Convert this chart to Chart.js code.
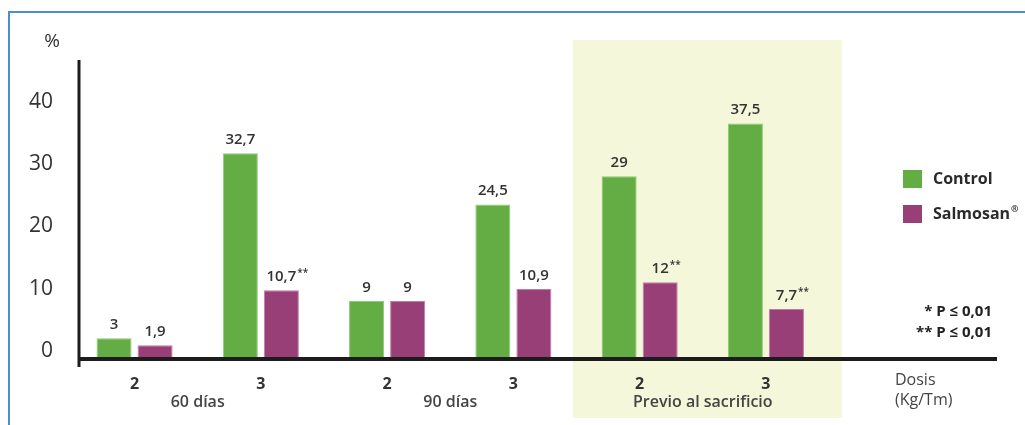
<!doctype html>
<html lang="es">
<head>
  <meta charset="utf-8">
  <title>Salmosan</title>
  <script src="https://cdn.jsdelivr.net/npm/chart.js"></script>
  <style>
    body { margin: 0; background: #fff; }
  </style>
</head>
<body>
  <canvas id="grafico" width="1025" height="425"></canvas>

  <script>
    // datos
    const dosis = ['2', '3', '2', '3', '2', '3'];
    const periodos = ['60 días', '90 días', 'Previo al sacrificio'];
    const control = [3, 32.7, 9, 24.5, 29, 37.5];
    const salmosan = [1.9, 10.7, 9, 10.9, 12, 7.7];
    const controlSig = ['', '', '', '', '', ''];
    const salmosanSig = ['', '**', '', '', '**', '**'];
    const yTicks = [0, 10, 20, 30, 40];
    const notas = ['* P ≤ 0,01', '** P ≤ 0,01'];

    const fuente = '"Open Sans", "DejaVu Sans", sans-serif';

    function fmt(v) {
      return String(v).replace('.', ',');
    }

    // fondo: marco azul y zona "previo al sacrificio"
    const fondo = {
      id: 'fondo',
      beforeDraw(chart) {
        const ctx = chart.ctx;
        const x = chart.scales.x;
        ctx.save();
        ctx.fillStyle = '#f4f7d9';
        const x0 = x.getPixelForValue(3.47);
        const x1 = x.getPixelForValue(5.6);
        ctx.fillRect(x0, 40, x1 - x0, 378);

        ctx.strokeStyle = '#4d8fcc';
        ctx.lineWidth = 2;
        ctx.beginPath();
        ctx.moveTo(9, 425);
        ctx.lineTo(9, 12);
        ctx.lineTo(1025, 12);
        ctx.stroke();
        ctx.restore();
      }
    };

    // ejes, etiquetas de valores, leyenda y notas
    const extras = {
      id: 'extras',
      afterDatasetsDraw(chart) {
        const ctx = chart.ctx;
        const area = chart.chartArea;
        const x = chart.scales.x;
        ctx.save();

        // ejes
        ctx.strokeStyle = '#1c1c1c';
        ctx.lineWidth = 3;
        ctx.beginPath();
        ctx.moveTo(area.left, 60);
        ctx.lineTo(area.left, 367);
        ctx.stroke();
        ctx.lineWidth = 4;
        ctx.beginPath();
        ctx.moveTo(area.left - 1, area.bottom + 2);
        ctx.lineTo(area.right, area.bottom + 2);
        ctx.stroke();

        // valores encima de las barras
        ctx.fillStyle = '#333';
        ctx.textBaseline = 'alphabetic';
        chart.data.datasets.forEach((ds, di) => {
          const meta = chart.getDatasetMeta(di);
          meta.data.forEach((bar, i) => {
            const txt = fmt(ds.data[i].y);
            ctx.font = '600 15px ' + fuente;
            const w = ctx.measureText(txt).width;
            const tx = bar.x - w / 2;
            ctx.textAlign = 'left';
            ctx.fillText(txt, tx, bar.y - 9);
            if (ds.sig[i]) {
              ctx.font = '600 10px ' + fuente;
              ctx.fillText(ds.sig[i], tx + w + 1, bar.y - 14);
            }
          });
        });

        // "%"
        ctx.font = '19px ' + fuente;
        ctx.textAlign = 'center';
        ctx.textBaseline = 'middle';
        ctx.fillText('%', 52, 42);

        // periodos
        ctx.font = '600 16px ' + fuente;
        ctx.fillStyle = '#444';
        periodos.forEach((p, i) => {
          ctx.fillText(p, x.getPixelForValue(i * 2 + 0.5), 402);
        });

        // Dosis
        ctx.textAlign = 'left';
        ctx.fillStyle = '#444';
        ctx.font = '500 16px ' + fuente;
        ctx.fillText('Dosis', 895, 380);
        ctx.fillText('(Kg/Tm)', 895, 400);

        // leyenda
        chart.data.datasets.forEach((ds, di) => {
          const ly = 170 + di * 35;
          ctx.fillStyle = ds.backgroundColor;
          ctx.fillRect(area.right - 94, ly, 19, 18);
          ctx.fillStyle = '#2a2a2a';
          ctx.font = 'bold 16px ' + fuente;
          ctx.textBaseline = 'middle';
          const nombre = ds.label.replace('®', '');
          ctx.fillText(nombre, area.right - 64, ly + 9);
          if (ds.label.includes('®')) {
            const w = ctx.measureText(nombre).width;
            ctx.font = 'bold 9px ' + fuente;
            ctx.fillText('®', area.right - 64 + w + 1, ly + 4);
          }
        });

        // notas
        ctx.font = 'bold 15px ' + fuente;
        ctx.textAlign = 'right';
        ctx.fillStyle = '#222';
        notas.forEach((n, i) => {
          ctx.fillText(n, area.right - 5, 312 + i * 21);
        });

        ctx.restore();
      }
    };

    const data = {
      datasets: [{
        label: 'Control',
        data: control.map((v, i) => ({ x: i, y: v })),
        sig: controlSig,
        backgroundColor: '#63ad44',
        borderColor: '#8fcb72',
        borderWidth: 1
      }, {
        label: 'Salmosan®',
        data: salmosan.map((v, i) => ({ x: i, y: v })),
        sig: salmosanSig,
        backgroundColor: '#983f78',
        borderColor: '#c17ca6',
        borderWidth: 1
      }]
    };

    const config = {
      type: 'bar',
      data,
      options: {
        responsive: false,
        animation: false,
        categoryPercentage: 0.65,
        barPercentage: 0.854,
        layout: { padding: { top: 58, right: 28, left: 0, bottom: 0 } },
        plugins: {
          legend: { display: false },
          tooltip: { enabled: false }
        },
        scales: {
          x: {
            type: 'linear',
            offset: false,
            min: -0.44,
            max: 6.83,
            grid: { display: false },
            border: { display: false },
            afterBuildTicks(scale) {
              scale.ticks = dosis.map((d, i) => ({ value: i }));
            },
            afterFit(scale) {
              scale.height = 68;
            },
            ticks: {
              padding: 10,
              maxRotation: 0,
              autoSkip: false,
              color: '#333',
              font: { family: fuente, size: 16, weight: 'bold' },
              callback: (v, i) => dosis[i]
            }
          },
          y: {
            min: 0,
            max: 48,
            grid: { display: false },
            border: { display: false },
            afterBuildTicks(scale) {
              scale.ticks = yTicks.map(v => ({ value: v }));
            },
            afterFit(scale) {
              scale.width = 79;
            },
            ticks: {
              padding: 18,
              labelOffset: -6,
              color: '#333',
              font: { family: fuente, size: 21 }
            }
          }
        }
      },
      plugins: [fondo, extras]
    };

    new Chart(document.getElementById('grafico'), config);
  </script>
</body>
</html>
